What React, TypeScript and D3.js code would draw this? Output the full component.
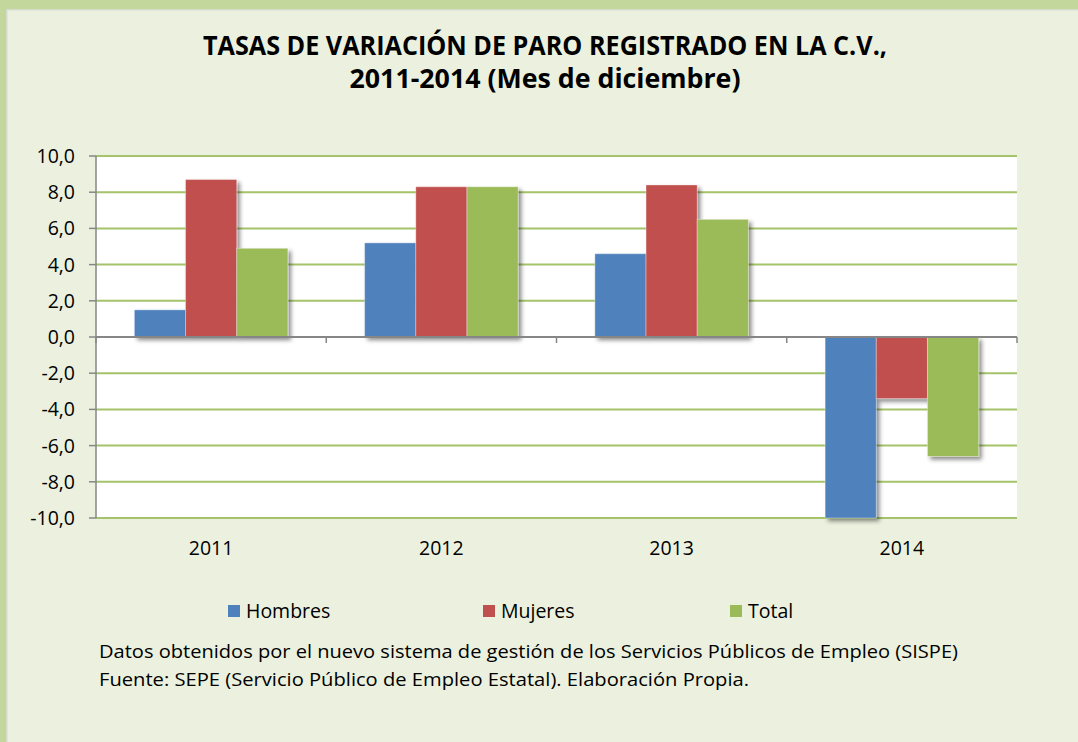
import React from "react";
import * as d3 from "d3";

const categories = ["2011", "2012", "2013", "2014"];
const seriesNames = ["Hombres", "Mujeres", "Total"];
const hombres = [1.5, 5.2, 4.6, -10.0];
const mujeres = [8.7, 8.3, 8.4, -3.4];
const total = [4.9, 8.3, 6.5, -6.6];
const seriesColors = ["#4f81bd", "#c0504d", "#9bbb59"];
const yTicks = [-10, -8, -6, -4, -2, 0, 2, 4, 6, 8, 10];
const titleLines = [
  "TASAS DE VARIACIÓN DE PARO REGISTRADO EN LA C.V.,",
  "2011-2014 (Mes de diciembre)",
];
const notes = [
  "Datos obtenidos por el nuevo sistema de gestión de los Servicios Públicos de Empleo (SISPE)",
  "Fuente: SEPE (Servicio Público de Empleo Estatal). Elaboración Propia.",
];

const W = 1078;
const H = 742;
const plot = { left: 96, right: 1017, top: 156, bottom: 518 };
const FONT = "'Open Sans', 'Noto Sans', sans-serif";

export default function App() {
  const seriesValues = [hombres, mujeres, total];
  const x = d3.scaleBand<string>().domain(categories).range([plot.left, plot.right]).padding(0);
  const xs = d3
    .scaleBand<string>()
    .domain(seriesNames)
    .range([0, x.bandwidth()])
    .paddingInner(0)
    .paddingOuter(0.75);
  const y = d3.scaleLinear().domain([-10, 10]).range([plot.bottom, plot.top]);
  const fmt = (v: number) => d3.format(".1f")(v).replace(".", ",").replace("−", "-");
  const boundaries = categories.map((c) => x(c)!).concat([plot.right]);
  const legendX = [228, 483, 730];

  return (
    <svg
      width={W}
      height={H}
      style={{ position: "absolute", left: 0, top: 0, display: "block" }}
      fontFamily={FONT}
    >
      <defs>
        <filter id="shadow" x="-20%" y="-20%" width="150%" height="150%">
          <feDropShadow dx="3" dy="3" stdDeviation="2" floodColor="#000" floodOpacity="0.45" />
        </filter>
      </defs>
      <rect x={0} y={0} width={W} height={H} fill="#ebf1de" />
      <rect x={0} y={0} width={W} height={9} fill="#c3d69b" />
      <rect x={0} y={0} width={6} height={H} fill="#c3d69b" />
      <rect x={6} y={9} width={W - 6} height={1.5} fill="#d6dccb" />
      <rect x={6} y={9} width={1.5} height={H - 9} fill="#d6dccb" />

      {titleLines.map((t, i) => (
        <text
          key={t}
          x={545}
          y={55 + i * 33}
          textAnchor="middle"
          fontWeight="bold"
          fontSize={26}
          fill="#000"
          textLength={i === 0 ? 684 : 391}
          lengthAdjust="spacingAndGlyphs"
        >
          {t}
        </text>
      ))}

      <rect
        x={plot.left}
        y={plot.top}
        width={plot.right - plot.left}
        height={plot.bottom - plot.top}
        fill="#ffffff"
      />

      {yTicks.map((t) => (
        <g key={t}>
          {t !== 0 && (
            <line
              x1={plot.left}
              x2={plot.right}
              y1={y(t)}
              y2={y(t)}
              stroke="#a5c36a"
              strokeWidth={2}
            />
          )}
          <line x1={plot.left - 7} x2={plot.left} y1={y(t)} y2={y(t)} stroke="#868686" strokeWidth={1.5} />
          <text x={75} y={y(t) + 7} textAnchor="end" fontSize={19.5} fill="#000">
            {fmt(t)}
          </text>
        </g>
      ))}

      {categories.map((c, ci) =>
        seriesNames.map((s, si) => {
          const v = seriesValues[si][ci];
          const x0 = x(c)! + xs(s)!;
          const y0 = Math.min(y(v), y(0));
          const h = Math.abs(y(v) - y(0));
          return (
            <rect
              key={c + s}
              x={x0}
              y={y0}
              width={xs.bandwidth()}
              height={h}
              fill={seriesColors[si]}
              stroke="rgba(255,255,255,0.35)"
              strokeWidth={1}
              filter="url(#shadow)"
            />
          );
        })
      )}

      <line x1={plot.left} x2={plot.left} y1={plot.top} y2={plot.bottom} stroke="#868686" strokeWidth={1.5} />
      <line x1={plot.left} x2={plot.right} y1={y(0)} y2={y(0)} stroke="#868686" strokeWidth={2} />
      {boundaries.map((bx, i) => (
        <line key={i} x1={bx} x2={bx} y1={y(0)} y2={y(0) + 6} stroke="#868686" strokeWidth={1.5} />
      ))}

      {categories.map((c) => (
        <text key={c} x={x(c)! + x.bandwidth() / 2} y={555} textAnchor="middle" fontSize={19.5} fill="#000">
          {c}
        </text>
      ))}

      {seriesNames.map((s, i) => (
        <g key={s}>
          <rect x={legendX[i]} y={605} width={12} height={12} fill={seriesColors[i]} />
          <text x={legendX[i] + 18} y={618} fontSize={19.5} fill="#000">
            {s}
          </text>
        </g>
      ))}

      {notes.map((n, i) => (
        <text
          key={i}
          x={99}
          y={658 + i * 28}
          fontSize={19}
          fill="#000"
          textLength={i === 0 ? 859 : 650}
          lengthAdjust="spacingAndGlyphs"
        >
          {n}
        </text>
      ))}
    </svg>
  );
}
